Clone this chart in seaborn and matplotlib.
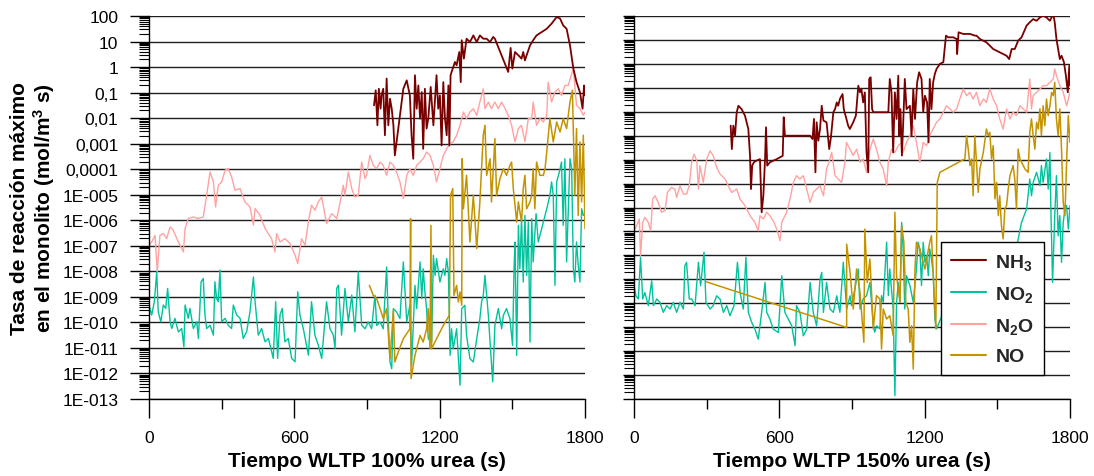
import numpy as np
import pandas as pd
import matplotlib
matplotlib.use("Agg")
import matplotlib.pyplot as plt
import seaborn as sns
from matplotlib.ticker import FixedLocator, LogLocator, NullFormatter
from matplotlib.lines import Line2D

# ---------------- data (time in s, log10 of reaction rate) ----------------
# WLTP 100% urea
n2o_100_t = [0,11,25,34,45,59,73,87,100,121,142,149,162,183,204,224,238,252,266,275,286,300,314,327,341,355,376,396,417,431,438,458,479,506,520,527,541,561,582,603,614,630,644,658,671,685,699,713,733,754,775,788,802,809,823,837,850,864,878,892,
             898,912,926,940,954,967,981,995,1009,1022,1036,1050,1064,1077,1091,1105,1119,1132,1146,1160,1174,1187,1201,1215,1229,1243,1256,1270,1284,1298,1311,1325,1339,1353,1366,1380,1387,1401,1414,1428,1442,1456,1470,1483,1497,1511,1525,1538,1552,1566,1580,1586,1600,1614,1628,1642,1648,1662,1676,1690,1703,1717,1731,1745,1752,1765,1779,1793,1800]
n2o_100_log = [-6.98,-6.85,-6.59,-8.02,-6.59,-6.52,-6.72,-6.26,-6.39,-6.85,-7.24,-6.32,-5.93,-5.87,-5.93,-5.87,-5.02,-4.11,-4.50,-5.48,-4.63,-4.50,-4.04,-3.98,-4.30,-4.82,-4.76,-5.28,-5.48,-6.19,-5.54,-5.80,-6.32,-6.72,-7.24,-6.52,-6.85,-6.72,-6.91,-7.37,-7.69,-6.72,-6.98,-6.06,-5.41,-5.61,-5.28,-5.09,-6.13,-5.74,-5.93,-5.35,-4.63,-5.02,-4.11,-4.76,-5.09,-5.02,-3.72,-4.37,
               -4.24,-3.46,-3.85,-3.98,-3.72,-3.85,-4.24,-3.72,-3.85,-4.11,-4.50,-5.15,-4.24,-3.98,-4.24,-3.85,-3.72,-3.59,-3.33,-3.46,-3.85,-4.50,-3.98,-3.46,-3.20,-3.00,-2.93,-2.67,-2.28,-1.76,-2.02,-1.76,-1.63,-1.89,-1.37,-0.85,-1.63,-1.37,-1.63,-1.37,-1.63,-1.37,-1.63,-1.89,-2.28,-2.93,-2.41,-2.28,-2.93,-2.02,-2.02,-1.37,-2.28,-2.02,-2.15,-1.89,-0.59,-1.37,-0.98,-0.85,-1.11,-0.72,-0.72,-0.26,-0.06,-1.50,-1.63,-1.89,-1.76]

nh3_100_t = [929,936,943,949,956,960,967,974,981,988,995,1002,1009,1015,1050,1064,1077,1084,1091,1098,1105,1112,1119,1126,1132,1139,1146,1153,1163,1174,1187,1194,1201,1208,1215,1222,1229,1236,1240,1245,1254,1263,1270,1281,1287,1291,1300,1311,1325,1339,1353,1366,1380,1394,1408,1421,1428,1483,1493,1500,1511,1525,1538,1545,1552,1559,1573,1586,1600,1621,1642,1662,1683,1697,1710,1724,1738,1752,1765,1779,1790,1796,1800]
nh3_100_log = [-1.50,-0.91,-2.28,-0.85,-1.63,-1.11,-0.85,-2.67,-0.45,-2.28,-1.24,-1.63,-2.28,-3.46,-0.85,-0.52,-1.11,-2.67,-3.59,-0.32,-1.63,-0.72,-2.02,-0.98,-3.20,-0.85,-2.41,-2.02,-0.78,-2.28,-0.32,-1.63,-1.11,-3.07,-0.59,-2.02,-2.67,-0.72,-3.07,-0.32,-0.06,0.20,0.07,0.59,-0.59,1.05,0.33,1.11,0.98,1.24,0.98,1.24,1.11,1.11,0.98,1.18,1.11,-0.19,0.75,-0.06,0.59,0.46,0.33,0.59,0.26,0.46,0.85,1.05,1.24,1.37,1.50,1.70,1.96,1.90,1.63,1.50,0.85,-0.06,-0.59,-0.98,-1.63,-0.72,-1.11]

no_100_t = [910,926,940,954,967,981,995,1009,1015,1029,1050,1077,1080,1082,1098,1119,1132,1146,1153,1160,1164,1167,1187,1215,1240,1245,1254,1259,1270,1277,1284,1291,1293,1298,1311,1325,1339,1353,1366,1380,1387,1394,1408,1414,1428,1435,1449,1463,1476,1490,1497,1504,1511,1518,1525,1538,1545,1552,1559,1573,1580,1586,1593,1600,1614,1628,1635,1642,1655,1669,1683,1697,1710,1724,1738,1748,1758,1765,1772,1779,1786,1793,1800]
no_100_log = [-8.55,-8.94,-9.07,-9.46,-9.85,-9.46,-11.42,-9.53,-11.55,-11.16,-10.64,-10.25,-5.94,-12.20,-11.29,-10.51,-10.77,-10.25,-9.46,-11.03,-6.20,-11.03,-10.64,-10.12,-9.72,-5.02,-4.76,-8.94,-8.55,-9.20,-8.81,-9.33,-3.59,-5.55,-4.24,-6.85,-5.02,-7.11,-5.28,-2.67,-2.28,-4.24,-3.59,-5.28,-2.80,-5.02,-4.37,-3.98,-4.24,-3.85,-3.72,-4.76,-5.41,-6.07,-5.28,-6.07,-4.76,-4.24,-5.55,-5.28,-5.02,-3.98,-5.55,-3.72,-4.24,-4.24,-3.98,-3.33,-2.02,-2.93,-2.15,-2.54,-2.02,-2.41,-1.37,-0.91,-5.02,-2.41,-5.81,-2.93,-5.28,-2.67,-6.33]

no2_100_t = [0,11,22,32,38,49,59,69,77,87,94,107,121,135,144,149,162,169,183,197,204,215,224,231,238,252,266,272,279,286,293,300,314,327,341,348,362,376,389,403,417,431,438,451,465,479,493,513,523,531,541,550,561,575,589,603,614,623,637,658,671,685,699,713,733,747,761,768,775,782,795,809,823,837,850,864,
             878,892,905,919,933,940,954,967,981,988,995,1002,1009,1022,1036,1050,1057,1064,1077,1084,1098,1105,1119,1126,1132,1139,1146,1153,1167,1174,1181,1187,1201,1215,1222,1229,1236,1243,1249,1256,1270,1284,1291,1304,1311,1325,1339,1353,1366,1373,1380,1387,1394,1401,1408,1419,1428,1442,1456,1463,1476,1490,1501,1507,1511,1518,1525,1531,1538,1545,1552,1559,1566,1573,1580,1586,1598,1607,1621,1628,1642,1655,1662,1669,1676,1683,1694,1703,1710,1717,1724,1731,1738,1745,1752,1758,1765,1772,1779,1786,1793,1800]
no2_100_log = [-9.32,-9.71,-9.19,-8.02,-9.58,-9.98,-9.32,-9.45,-8.67,-9.98,-10.24,-9.84,-10.37,-10.24,-10.95,-9.32,-9.84,-9.45,-10.24,-9.98,-10.63,-8.41,-8.28,-9.71,-10.24,-10.11,-10.50,-8.41,-9.06,-9.19,-7.95,-9.98,-9.84,-10.11,-10.24,-9.32,-9.71,-9.84,-10.63,-10.37,-9.58,-8.22,-9.19,-10.50,-10.24,-10.76,-10.63,-11.41,-9.19,-11.41,-9.71,-9.45,-10.76,-10.63,-11.41,-11.54,-8.80,-9.71,-10.24,-11.28,-9.19,-10.50,-10.89,-11.41,-9.19,-10.24,-10.50,-11.02,-8.67,-8.54,-10.50,-8.67,-9.98,-8.93,-10.37,-8.02,
               -10.11,-10.25,-9.98,-10.25,-8.94,-10.12,-9.98,-10.25,-7.83,-9.98,-11.55,-11.81,-9.46,-9.59,-9.85,-7.63,-8.81,-9.98,-9.33,-11.68,-8.55,-9.46,-7.63,-9.07,-7.90,-8.81,-9.46,-10.64,-10.77,-7.37,-8.16,-7.50,-8.42,-7.90,-8.16,-7.50,-8.03,-11.29,-10.25,-11.03,-10.25,-12.46,-9.46,-9.33,-10.51,-11.42,-11.55,-10.64,-9.85,-9.20,-8.94,-8.16,-8.94,-9.72,-10.77,-12.33,-10.12,-9.46,-10.25,-9.72,-9.46,-9.85,-10.90,-7.90,-6.85,-11.29,-6.20,-7.90,-5.94,-8.42,-5.81,-8.16,-6.07,-10.77,-5.94,-7.63,-5.74,-6.85,-6.33,-6.07,-5.55,-5.02,-4.50,-5.02,-8.55,-4.50,-4.11,-3.72,-6.20,-3.59,-7.63,-5.55,-3.59,-3.98,-7.90,-8.42,-6.85,-7.76,-8.42,-5.55,-5.81,-5.74]

# WLTP 150% urea
n2o_150_t = [0,11,22,27,36,45,59,69,77,87,100,114,128,138,155,169,176,190,204,217,228,238,248,259,266,272,286,300,314,327,341,355,376,389,403,424,438,458,479,499,513,520,534,548,561,578,589,603,610,623,630,644,658,671,685,699,713,727,740,754,768,782,795,805,816,830,843,857,871,
             877,891,905,919,933,946,960,974,988,1001,1015,1029,1043,1050,1063,1077,1091,1105,1111,1125,1139,1153,1166,1180,1194,1208,1221,1235,1249,1263,1277,1290,1304,1318,1332,1345,1359,1373,1387,1400,1414,1428,1442,1455,1469,1483,1497,1510,1524,1538,1552,1565,1579,1593,1607,1621,1634,1641,1648,1662,1676,1689,1703,1717,1731,1737,1744,1758,1772,1786,1800]
n2o_150_log = [-6.97,-6.76,-6.48,-8.01,-6.62,-6.41,-6.62,-6.97,-5.65,-5.51,-5.79,-6.20,-6.13,-5.37,-5.16,-5.23,-5.58,-5.09,-5.44,-5.44,-5.09,-4.11,-3.77,-4.04,-5.23,-4.25,-4.95,-3.98,-3.63,-3.84,-4.32,-4.60,-4.81,-5.09,-5.37,-5.23,-5.65,-5.92,-6.34,-6.62,-6.97,-6.34,-6.48,-6.20,-6.34,-6.62,-6.90,-7.39,-6.62,-6.34,-6.20,-5.65,-4.95,-4.67,-4.81,-4.67,-5.23,-5.79,-5.37,-5.23,-5.09,-5.51,-4.39,-4.11,-3.70,-4.67,-4.81,-4.95,-4.11,
               -3.28,-3.56,-3.83,-3.56,-4.11,-3.97,-4.53,-3.56,-3.14,-3.56,-4.11,-4.39,-5.09,-4.11,-3.56,-3.70,-3.42,-3.28,-3.70,-3.28,-3.00,-2.58,-3.28,-4.11,-3.28,-3.42,-3.00,-2.72,-2.44,-2.30,-2.02,-1.75,-1.88,-2.02,-1.88,-1.47,-1.05,-1.33,-1.19,-1.47,-1.19,-1.75,-1.47,-1.61,-1.05,-1.47,-1.75,-2.30,-2.72,-1.88,-2.30,-2.02,-2.16,-1.75,-1.88,-2.02,-0.63,-1.88,-1.33,-1.19,-1.05,-0.91,-0.91,-0.77,-0.63,-0.21,-0.49,-0.91,-1.19,-1.75,-1.19]

nh3_150_t = [399,404,410,417,424,431,444,458,472,479,483,488,495,506,520,527,534,541,545,550,561,589,614,618,623,630,727,737,743,749,754,761,768,775,782,795,806,813,823,830,837,843,850,861,
             866,877,884,891,905,916,926,933,939,946,953,960,967,971,977,983,988,1050,1056,1063,1070,1077,1084,1091,1095,1100,1106,1111,1118,1125,1139,1146,1153,1160,1169,1177,1187,1194,1201,1210,1216,1221,1228,1235,1242,1249,1263,1277,1288,1297,1318,1332,1334,1340,1359,1387,1407,1414,1428,1442,1455,1483,1510,1538,1549,1559,1572,1586,1600,1621,1634,1648,1662,1676,1689,1703,1717,1731,1737,1744,1751,1758,1765,1775,1783,1791,1797,1800]
nh3_150_log = [-2.58,-3.56,-2.58,-3.00,-2.02,-1.75,-1.89,-2.16,-2.72,-3.84,-5.23,-4.25,-4.11,-4.04,-3.98,-6.20,-5.51,-3.98,-2.65,-4.25,-4.11,-3.98,-3.84,-2.23,-3.00,-3.00,-3.00,-3.14,-2.30,-4.53,-2.44,-3.21,-2.72,-1.75,-2.37,-2.44,-3.56,-3.07,-2.02,-1.89,-1.61,-1.75,-1.47,-1.26,
               -1.89,-2.30,-2.58,-2.72,-2.44,-2.16,-0.91,-1.19,-1.05,-1.61,-1.19,-3.70,-4.53,-0.63,-0.56,-1.89,-2.02,-2.02,-0.63,-1.19,-3.70,-1.19,-2.30,-0.49,-3.00,-1.89,-3.83,-2.58,-0.63,-1.89,-1.75,-3.00,-1.05,-2.30,-0.77,-0.35,-0.63,-2.02,-1.33,-1.61,-3.28,-0.63,-1.89,-0.77,-0.42,-0.21,0.00,0.07,1.18,1.11,1.11,1.04,0.41,1.32,1.25,1.25,1.18,1.18,1.04,0.97,0.90,0.62,0.48,0.34,0.20,0.62,0.62,0.97,1.11,1.60,1.74,1.87,1.80,1.94,2.01,1.94,1.80,2.08,1.73,1.04,0.62,0.20,0.34,0.07,-0.49,-1.19,-0.08,-0.91]

no_150_t = [297,878,878,892,905,919,933,949,953,963,974,988,1001,1015,1022,1029,1043,1056,1070,1077,1084,1098,1105,1114,1122,1132,1139,1146,1153,1160,1166,1180,1201,1221,1228,1246,1252,1263,1366,1373,1380,1387,1394,1400,1407,1414,1421,1428,1442,1455,1462,1469,1476,1483,1490,1497,1504,1510,1517,1524,1531,1538,1545,1552,1565,1572,1579,1586,1593,1600,1614,1627,1634,1641,1648,1655,1662,1669,1676,1682,1689,1696,1703,1710,1717,1724,1731,1737,1744,1751,1758,1765,1772,1779,1786,1793,1800]
no_150_log = [-9.10,-11.01,-7.53,-8.71,-10.24,-8.57,-9.54,-11.63,-6.90,-9.13,-8.15,-11.07,-9.68,-9.82,-11.91,-10.24,-10.66,-10.52,-11.35,-6.20,-8.85,-9.96,-6.76,-7.45,-9.96,-10.24,-11.63,-10.94,-12.75,-8.57,-7.45,-7.73,-8.57,-7.45,-7.18,-11.07,-4.95,-4.53,-3.97,-3.00,-3.56,-4.25,-3.97,-5.51,-3.00,-4.11,-5.37,-4.39,-3.70,-2.72,-3.00,-2.86,-3.97,-3.42,-5.64,-4.95,-6.34,-5.51,-6.76,-7.31,-6.06,-5.92,-5.23,-4.67,-4.25,-4.81,-6.06,-3.56,-3.97,-4.11,-4.39,-4.53,-2.86,-2.30,-3.00,-3.56,-2.44,-2.72,-1.88,-3.00,-1.75,-2.58,-1.47,-2.16,-1.75,-1.19,-1.33,-0.77,-2.30,-3.00,-1.88,-3.56,-5.78,-6.34,-4.11,-2.16,-3.28]

no2_150_t = [0,8,18,27,36,45,59,73,80,94,107,121,135,149,162,176,190,204,210,217,228,238,252,266,275,289,297,314,327,341,355,369,383,396,413,427,438,451,462,472,486,499,513,527,541,548,561,575,596,610,623,637,651,665,671,685,699,713,727,740,754,768,775,782,795,809,823,837,850,864,878,892,
             898,912,926,933,946,960,974,988,994,1001,1015,1022,1029,1043,1050,1056,1070,1077,1084,1091,1098,1105,1111,1118,1125,1139,1153,1166,1173,1180,1187,1194,1201,1208,1215,1221,1228,1235,1242,1249,1280,1320,1360,1400,1440,1480,1520,1560,1586,1600,1621,1634,1641,1648,1662,1676,1682,1689,1703,1710,1717,1721,1728,1737,1744,1751,1758,1765,1772,1779,1786,1793,1800]
no2_150_log = [-9.27,-9.69,-9.82,-8.08,-9.82,-9.55,-10.10,-9.06,-10.10,-9.82,-9.96,-10.38,-10.10,-10.24,-9.96,-10.38,-9.96,-10.24,-8.43,-8.29,-9.82,-9.82,-10.10,-8.29,-9.27,-7.87,-9.96,-10.24,-10.10,-9.69,-9.82,-10.38,-10.10,-10.52,-10.10,-8.29,-9.55,-10.24,-8.08,-10.38,-10.80,-11.08,-11.50,-10.38,-9.13,-10.38,-10.66,-11.08,-11.22,-8.85,-10.38,-10.66,-10.94,-11.77,-10.10,-10.38,-11.36,-11.08,-9.13,-10.38,-10.94,-8.99,-8.71,-10.38,-9.13,-10.24,-10.38,-9.69,-10.38,-8.29,-10.24,-9.69,
               -10.10,-9.40,-8.57,-10.24,-9.82,-9.68,-9.13,-10.94,-11.21,-10.94,-11.07,-9.68,-9.96,-7.45,-9.68,-8.57,-10.24,-13.86,-9.96,-9.13,-9.96,-6.62,-7.73,-10.24,-8.85,-9.26,-9.96,-8.57,-7.45,-7.73,-9.26,-7.45,-8.29,-8.01,-8.85,-7.73,-8.15,-8.71,-10.66,-11.07,-10.3,-9.5,-10.5,-9.8,-10.6,-9.6,-10.2,-8.8,-7.32,-6.62,-6.06,-4.81,-5.51,-4.95,-4.53,-5.09,-4.25,-4.95,-3.97,-5.23,-3.70,-6.06,-9.13,-6.34,-4.67,-7.18,-6.34,-8.29,-6.62,-6.06,-5.92,-6.90,-5.92]

species = ["NH$_3$", "NO$_2$", "N$_2$O", "NO"]
colors = {"NH3": "#7a0000", "NO2": "#00c29c", "N2O": "#ffa2a2", "NO": "#c49300"}
xticks_major = [0, 600, 1200, 1800]
xticks_minor = [300, 900, 1500]
ytick_labels_left = ["1E-013", "1E-012", "1E-011", "1E-010", "1E-009", "1E-008", "1E-007",
                     "1E-006", "1E-005", "0,0001", "0,001", "0,01", "0,1", "1", "10", "100"]
xlabels = ["Tiempo WLTP 100% urea (s)", "Tiempo WLTP 150% urea (s)"]
ylabel = "Tasa de reacción máximo\nen el monolito (mol/m$^\\mathbf{3}$ s)"

# ---------------- style ----------------
sns.set_theme(style="white")
plt.rcParams["font.family"] = ["Liberation Sans", "DejaVu Sans"]
plt.rcParams["mathtext.fontset"] = "custom"
plt.rcParams["mathtext.rm"] = "Liberation Sans:bold"
plt.rcParams["mathtext.bf"] = "Liberation Sans:bold"
plt.rcParams["mathtext.default"] = "bf"

fig = plt.figure(figsize=(10.94, 4.77), dpi=100)
axL = fig.add_axes([149/1094, 1-400/477, 436/1094, 383/477])
axR = fig.add_axes([634/1094, 1-400/477, 436/1094, 383/477])


def draw(ax, t, lg, color, lw):
    df = pd.DataFrame({"t": t, "v": np.power(10.0, np.array(lg))})
    sns.lineplot(data=df, x="t", y="v", ax=ax, color=color, lw=lw,
                 sort=False, estimator=None, legend=False)


panels = [
    (axL, [(n2o_100_t, n2o_100_log, "N2O"), (no2_100_t, no2_100_log, "NO2"),
           (no_100_t, no_100_log, "NO"), (nh3_100_t, nh3_100_log, "NH3")], -13),
    (axR, [(n2o_150_t, n2o_150_log, "N2O"), (no2_150_t, no2_150_log, "NO2"),
           (no_150_t, no_150_log, "NO"), (nh3_150_t, nh3_150_log, "NH3")], -14),
]
widths = {"NH3": 1.3, "NO2": 1.0, "N2O": 1.0, "NO": 1.1}

for i, (ax, series, lowexp) in enumerate(panels):
    for t, lg, key in series:
        draw(ax, t, lg, colors[key], widths[key])
    ax.set_yscale("log")
    ax.set_xlim(0, 1800)
    ax.set_ylim(10.0**lowexp, 100)
    ax.yaxis.set_major_locator(FixedLocator(10.0**np.arange(lowexp, 3)))
    ax.yaxis.set_minor_locator(LogLocator(base=10, subs=np.arange(2, 10), numticks=200))
    ax.yaxis.set_minor_formatter(NullFormatter())
    ax.xaxis.set_major_locator(FixedLocator(xticks_major))
    ax.xaxis.set_minor_locator(FixedLocator(xticks_minor))
    ax.set_xticklabels([str(v) for v in xticks_major])
    ax.grid(axis="y", which="major", color="#1e1e1e", lw=1.0)
    ax.set_axisbelow(True)
    for s in ["top", "right"]:
        ax.spines[s].set_visible(False)
    for s in ["left", "bottom"]:
        ax.spines[s].set_color("black")
        ax.spines[s].set_linewidth(1.0)
    ax.tick_params(axis="x", which="both", bottom=True, top=False)
    ax.tick_params(axis="y", which="both", left=True, right=False)
    ax.tick_params(axis="x", which="major", direction="out", length=14, width=1,
                   color="black", pad=8, labelsize=12.5, labelcolor="black")
    ax.tick_params(axis="x", which="minor", direction="out", length=7, width=1, color="black")
    ax.set_xlabel(xlabels[i], fontsize=15, fontweight="bold", color="black")
    ax.xaxis.set_label_coords(0.5, -0.135)
    ax.set_ylabel("")
    if i == 0:
        ax.set_yticklabels(ytick_labels_left)
        ax.tick_params(axis="y", which="major", direction="out", length=14, width=1,
                       color="black", pad=8, labelsize=12.5, labelcolor="black")
        ax.tick_params(axis="y", which="minor", direction="out", length=7, width=0.8, color="black")
        ax.set_ylabel(ylabel, fontsize=15, fontweight="bold", color="black", linespacing=1.1)
        ax.yaxis.set_label_coords(-0.212, 0.5)
    else:
        ax.tick_params(axis="y", which="major", direction="out", length=8, width=1,
                       color="black", labelleft=False)
        ax.tick_params(axis="y", which="minor", direction="out", length=7, width=0.8, color="black")

handles = [Line2D([0], [0], color=colors[k], lw=1.5) for k in ["NH3", "NO2", "N2O", "NO"]]
leg = axR.legend(handles, species, loc="upper left", bbox_to_anchor=(0.704, 0.41),
                 borderaxespad=0, frameon=True, fancybox=False,
                 handlelength=1.8, handletextpad=0.5, labelspacing=0.62, borderpad=0.5,
                 prop={"weight": "bold", "size": 14})
leg.get_frame().set_edgecolor("black")
leg.get_frame().set_linewidth(1.0)
leg.get_frame().set_alpha(1)

fig.savefig("out.png", dpi=100)
